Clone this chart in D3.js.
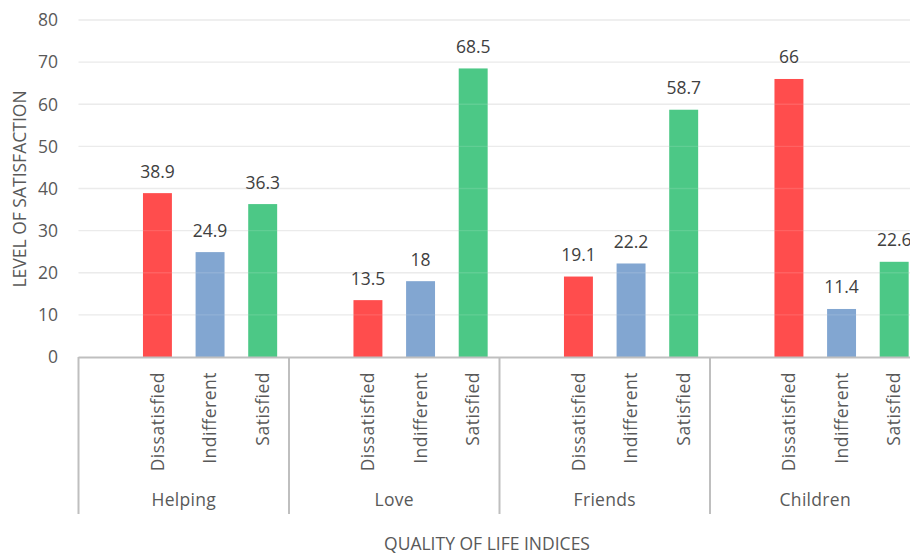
<!DOCTYPE html>
<html>
<head>
<meta charset="utf-8">
<script src="https://cdn.jsdelivr.net/npm/d3@7"></script>
<style>
  body { margin: 0; background: #fff; }
  text { font-family: "Open Sans", sans-serif; }
</style>
</head>
<body>
<div id="chart"></div>
<script>
// data
var groups = ["Helping", "Love", "Friends", "Children"];
var levels = ["Dissatisfied", "Indifferent", "Satisfied"];
var dissatisfied = [38.9, 13.5, 19.1, 66];
var indifferent = [24.9, 18, 22.2, 11.4];
var satisfied = [36.3, 68.5, 58.7, 22.6];
var yTicks = [0, 10, 20, 30, 40, 50, 60, 70, 80];

var colors = { Dissatisfied: "#ff4d4d", Indifferent: "#82a6d1", Satisfied: "#4cc886" };

var width = 910, height = 555;
var margin = {top: 20, left: 78.5, bottomAxis: 357};

// build rows for drawing
var series = { Dissatisfied: dissatisfied, Indifferent: indifferent, Satisfied: satisfied };
var rows = [];
groups.forEach(function (g, i) {
  levels.forEach(function (l) {
    rows.push({ group: g, level: l, value: series[l][i] });
  });
});

var svg = d3.select("#chart").append("svg")
    .attr("width", width)
    .attr("height", height);

// outer scale for groups, inner scale with an empty first slot
var x0 = d3.scaleBand()
    .domain(groups)
    .range([margin.left, margin.left + 4 * 210.5])
    .padding(0);
var x1 = d3.scaleBand()
    .domain([""].concat(levels))
    .range([0, x0.bandwidth()])
    .padding(0);
var barW = x1.bandwidth() * 0.55;

var y = d3.scaleLinear()
    .domain([0, 80])
    .range([margin.bottomAxis, margin.top]);

// gridlines
svg.append("g")
  .selectAll("line")
  .data(yTicks.slice(1))
  .join("line")
    .attr("x1", margin.left)
    .attr("x2", width)
    .attr("y1", d => y(d))
    .attr("y2", d => y(d))
    .attr("stroke", "#e9e9e9")
    .attr("stroke-width", 1.3);

// y tick labels
svg.append("g")
  .selectAll("text")
  .data(yTicks)
  .join("text")
    .attr("x", 58)
    .attr("y", d => y(d))
    .attr("dy", "0.36em")
    .attr("text-anchor", "end")
    .attr("font-size", "17.5px")
    .attr("fill", "#595959")
    .text(d => d);

// bars
var cx = d => x0(d.group) + x1(d.level) + x1.bandwidth() / 2;
svg.append("g")
  .selectAll("rect")
  .data(rows)
  .join("rect")
    .attr("x", d => cx(d) - barW / 2)
    .attr("width", barW)
    .attr("y", d => y(d.value))
    .attr("height", d => y(0) - y(d.value))
    .attr("fill", d => colors[d.level]);

// faint gridlines show through the bars in the original
svg.append("g")
  .selectAll("line")
  .data(yTicks.slice(1))
  .join("line")
    .attr("x1", margin.left)
    .attr("x2", width)
    .attr("y1", d => y(d))
    .attr("y2", d => y(d))
    .attr("stroke", "#ffffff")
    .attr("stroke-opacity", 0.12)
    .attr("stroke-width", 1.3);

// value labels
svg.append("g")
  .selectAll("text")
  .data(rows)
  .join("text")
    .attr("x", cx)
    .attr("y", d => y(d.value) - 15.5)
    .attr("text-anchor", "middle")
    .attr("font-size", "17.5px")
    .attr("fill", "#404040")
    .text(d => d.value);

// category axis line
svg.append("line")
    .attr("x1", margin.left)
    .attr("x2", width)
    .attr("y1", y(0) + 0.5)
    .attr("y2", y(0) + 0.5)
    .attr("stroke", "#bfbfbf")
    .attr("stroke-width", 2);

// group separators
svg.append("g")
  .selectAll("line")
  .data(groups)
  .join("line")
    .attr("x1", d => x0(d))
    .attr("x2", d => x0(d))
    .attr("y1", y(0))
    .attr("y2", 514)
    .attr("stroke", "#bfbfbf")
    .attr("stroke-width", 2);

// rotated level labels
svg.append("g")
  .selectAll("text")
  .data(rows)
  .join("text")
    .attr("transform", d => "translate(" + cx(d) + ",372) rotate(-90)")
    .attr("dy", "0.35em")
    .attr("text-anchor", "end")
    .attr("font-size", "17.5px")
    .attr("letter-spacing", "0.5px")
    .attr("fill", "#595959")
    .text(d => d.level);

// group labels
svg.append("g")
  .selectAll("text")
  .data(groups)
  .join("text")
    .attr("x", d => x0(d) + x0.bandwidth() / 2)
    .attr("y", 506)
    .attr("text-anchor", "middle")
    .attr("font-size", "17.5px")
    .attr("letter-spacing", "0.3px")
    .attr("fill", "#595959")
    .text(d => d);

// axis titles
svg.append("text")
    .attr("x", 487)
    .attr("y", 550)
    .attr("text-anchor", "middle")
    .attr("font-size", "17.5px")
    .attr("fill", "#595959")
    .text("QUALITY OF LIFE INDICES");

svg.append("text")
    .attr("transform", "translate(26,189) rotate(-90)")
    .attr("text-anchor", "middle")
    .attr("font-size", "17.5px")
    .attr("fill", "#595959")
    .text("LEVEL OF SATISFACTION");
</script>
</body>
</html>
